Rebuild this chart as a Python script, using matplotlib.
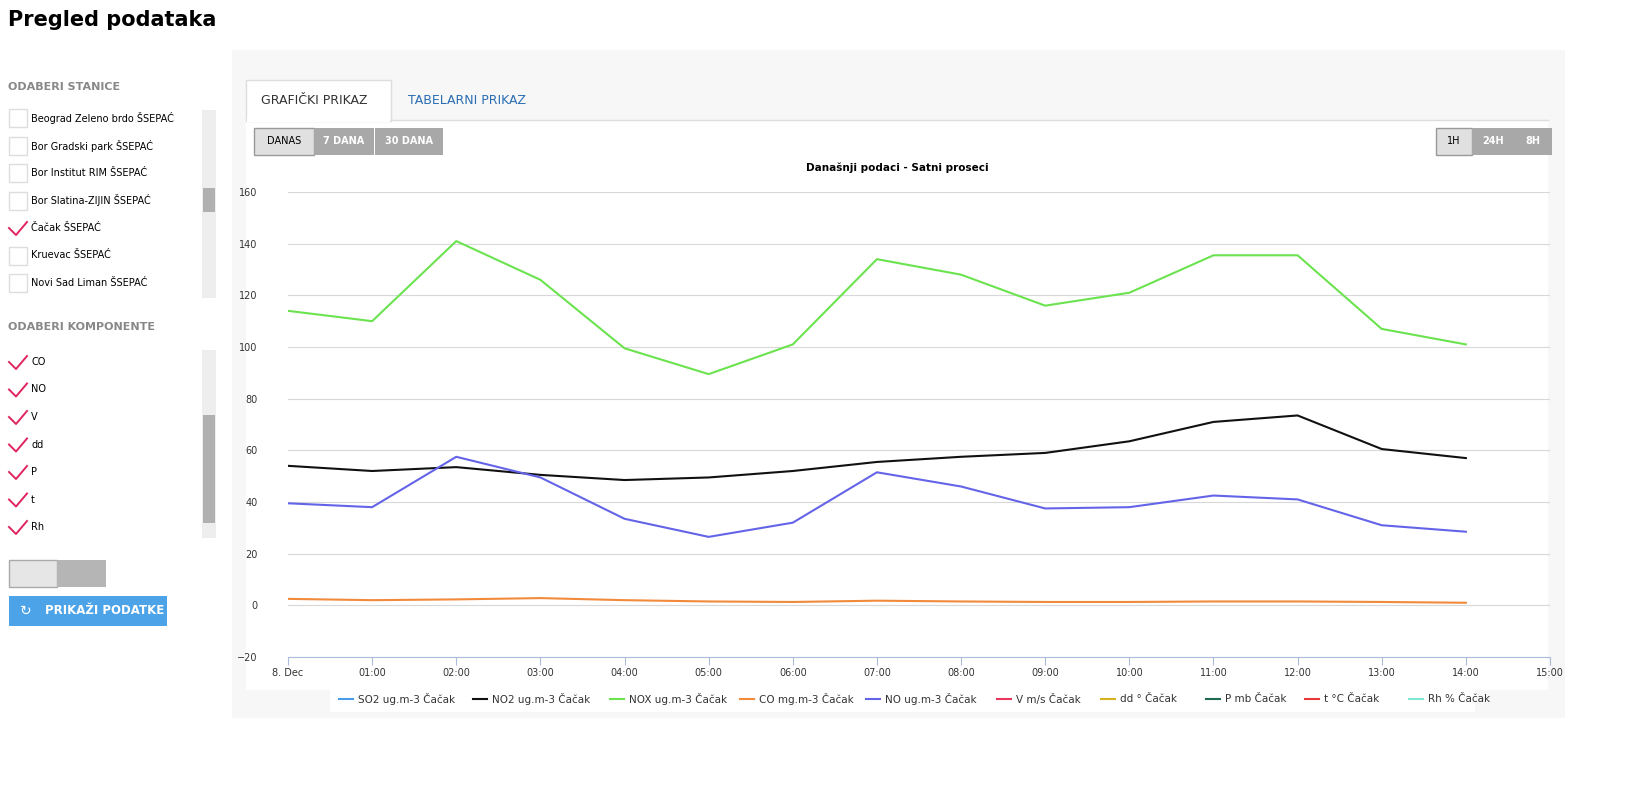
import matplotlib
matplotlib.use("Agg")
import matplotlib.pyplot as plt
from matplotlib.patches import Rectangle
from matplotlib.lines import Line2D

hours = list(range(15))
xticklabels = ["8. Dec"] + [f"{h:02d}:00" for h in range(1, 16)]
nox = [114, 110, 141, 126, 99.5, 89.5, 101, 134, 128, 116, 121, 135.5, 135.5, 107, 101]
no2 = [54, 52, 53.5, 50.5, 48.5, 49.5, 52, 55.5, 57.5, 59, 63.5, 71, 73.5, 60.5, 57]
no = [39.5, 38, 57.5, 49.5, 33.5, 26.5, 32, 51.5, 46, 37.5, 38, 42.5, 41, 31, 28.5]
co = [2.5, 2, 2.3, 2.8, 2, 1.5, 1.3, 1.8, 1.5, 1.3, 1.3, 1.5, 1.5, 1.3, 1.0]
legend_names = ["SO2 ug.m-3 Čačak", "NO2 ug.m-3 Čačak", "NOX ug.m-3 Čačak", "CO mg.m-3 Čačak",
                "NO ug.m-3 Čačak", "V m/s Čačak", "dd ° Čačak", "P mb Čačak", "t °C Čačak", "Rh % Čačak"]
legend_colors = ["#4a9be8", "#111111", "#6be34f", "#f28a3c", "#6464e8", "#e8365f", "#d8b21c", "#1e6b54", "#e83a3a", "#7fe8d0"]
stations = ["Beograd Zeleno brdo ŠSEPAĆ", "Bor Gradski park ŠSEPAĆ", "Bor Institut RIM ŠSEPAĆ",
            "Bor Slatina-ZIJIN ŠSEPAĆ", "Čačak ŠSEPAĆ", "Kruevac ŠSEPAĆ", "Novi Sad Liman ŠSEPAĆ"]
station_checked = [False, False, False, False, True, False, False]
components = ["CO", "NO", "V", "dd", "P", "t", "Rh"]

W, H = 1650, 792
fig = plt.figure(figsize=(W / 100, H / 100), dpi=100)
plt.rcParams['font.family'] = ['DejaVu Sans']

def px(x, y):
    return x / W, 1 - y / H

def rect(x, y, w, h, fc, ec="none", lw=1, z=-2):
    fig.patches.append(Rectangle((x / W, 1 - (y + h) / H), w / W, h / H, transform=fig.transFigure,
                                 facecolor=fc, edgecolor=ec, linewidth=lw, zorder=z))

def txt(x, y, s, **kw):
    fig.text(*px(x, y), s, va="center", zorder=3, **kw)

def check(y):
    fig.lines.append(Line2D([9 / W, 16 / W, 27 / W], [1 - y / H, 1 - (y + 7) / H, 1 - (y - 6) / H],
                            transform=fig.transFigure, color="#e0245e", lw=1.4, zorder=3))

txt(8, 20, "Pregled podataka", fontsize=15, fontweight="bold")
# side panel
txt(8, 87, "ODABERI STANICE", fontsize=8, color="#888888", fontweight="bold")
rect(202, 110, 14, 188, "#eeeeee")
rect(203, 188, 12, 24, "#b0b0b0", z=-1)
for i, (s, c) in enumerate(zip(stations, station_checked)):
    y = 118 + i * 27.5
    if c:
        check(y)
    else:
        rect(9, y - 9, 18, 18, "white", "#dddddd", 1)
    txt(31, y, s, fontsize=7)
txt(8, 327, "ODABERI KOMPONENTE", fontsize=8, color="#888888", fontweight="bold")
rect(202, 350, 14, 188, "#eeeeee")
rect(203, 415, 12, 108, "#b0b0b0", z=-1)
for i, s in enumerate(components):
    y = 362 + i * 27.5
    check(y)
    txt(31, y, s, fontsize=7)
rect(9, 560, 48, 27, "#e6e6e6", "#aaaaaa")
rect(57, 560, 49, 27, "#b5b5b5")
rect(9, 596, 158, 30, "#4da3e8")
txt(45, 611, "PRIKAŽI PODATKE", fontsize=8.5, color="white", fontweight="bold")
txt(20, 611, "↻", fontsize=10, color="white")

# main panel
rect(232, 50, 1333, 668, "#f7f7f7", z=-3)
rect(246, 120, 1302, 570, "white")
rect(246, 80, 145, 41, "white", "#dddddd")
rect(247, 118, 143, 4, "white", z=-1)
txt(261, 101, "GRAFIČKI PRIKAZ", fontsize=9, color="#333333")
txt(408, 101, "TABELARNI PRIKAZ", fontsize=9, color="#2a6db3")
fig.lines.append(Line2D([391 / W, 1548 / W], [1 - 120 / H] * 2, transform=fig.transFigure, color="#dddddd", lw=1))
rect(254, 128, 60, 27, "#e0e0e0", "#999999", z=-1)
rect(314, 128, 60, 27, "#a8a8a8", z=-1)
rect(375, 128, 68, 27, "#a8a8a8", z=-1)
txt(284, 141, "DANAS", fontsize=7, ha="center")
txt(344, 141, "7 DANA", fontsize=7, ha="center", color="white", fontweight="bold")
txt(409, 141, "30 DANA", fontsize=7, ha="center", color="white", fontweight="bold")
rect(1436, 128, 36, 27, "#e0e0e0", "#999999", z=-1)
rect(1472, 128, 42, 27, "#a8a8a8", z=-1)
rect(1514, 128, 38, 27, "#a8a8a8", z=-1)
txt(1454, 141, "1H", fontsize=7, ha="center")
txt(1493, 141, "24H", fontsize=7, ha="center", color="white", fontweight="bold")
txt(1533, 141, "8H", fontsize=7, ha="center", color="white", fontweight="bold")
txt(897, 168, "Današnji podaci - Satni proseci", fontsize=7.5, ha="center", fontweight="bold")

ax = fig.add_axes([288 / W, 1 - 657 / H, (1550 - 288) / W, (657 - 192) / H])
ax.set_zorder(1)
ax.patch.set_alpha(0)
ax.plot(hours, nox, color="#6be34f", lw=1.5)
ax.plot(hours, no2, color="#111111", lw=1.5)
ax.plot(hours, no, color="#6464e8", lw=1.5)
ax.plot(hours, co, color="#f28a3c", lw=1.5)
ax.set_xlim(0, 15)
ax.set_ylim(-20, 160)
ax.set_yticks(range(-20, 161, 20))
ax.set_xticks(range(16))
ax.set_xticklabels(xticklabels, fontsize=7, color="#333333")
ax.tick_params(axis="y", length=0, labelsize=7, labelcolor="#333333", pad=22)
ax.tick_params(axis="x", length=6, color="#aabbdd", pad=2)
ax.grid(axis="y", color="#d8d8d8", lw=0.8)
for s in ["top", "right", "left"]:
    ax.spines[s].set_visible(False)
ax.spines["bottom"].set_color("#aabbdd")
ax.set_axisbelow(True)

# legend
rect(330, 688, 1145, 24, "white", z=-1)
xs = [339, 473, 610, 740, 866, 997, 1101, 1206, 1305, 1409]
for x0, n, c in zip(xs, legend_names, legend_colors):
    fig.lines.append(Line2D([x0 / W, (x0 + 14) / W], [1 - 699 / H] * 2, transform=fig.transFigure, color=c, lw=1.5))
    txt(x0 + 19, 699, n, fontsize=7.5, color="#333333")

fig.savefig("out.png", dpi=100)
